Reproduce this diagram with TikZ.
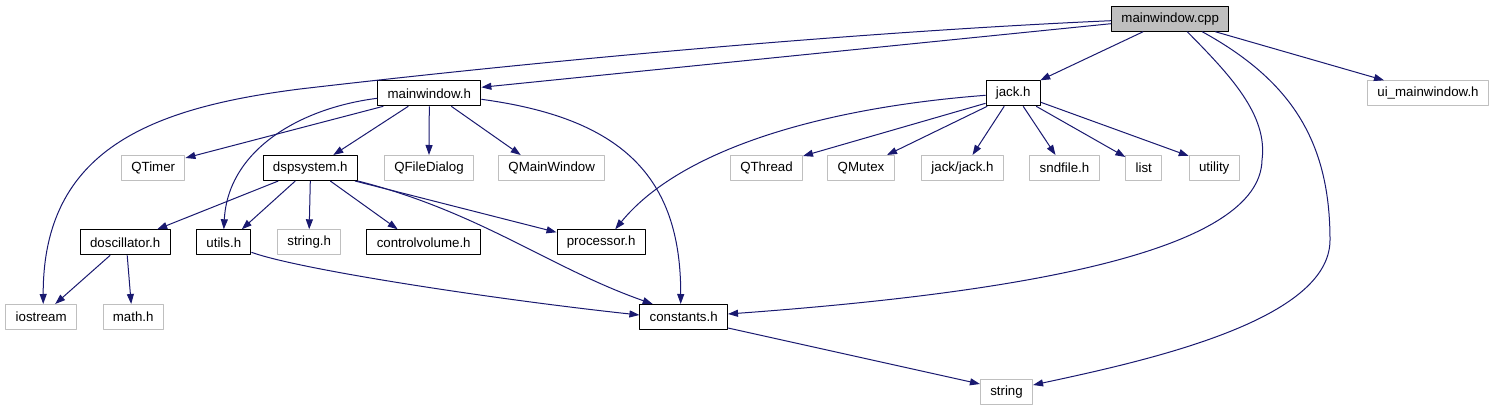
\documentclass[tikz,border=0pt]{standalone}
\usepackage{fontspec}
\setmainfont{Liberation Sans}
\usetikzlibrary{arrows.meta}
\definecolor{edgeblue}{HTML}{191970}
\definecolor{extline}{HTML}{BFBFBF}
\definecolor{rootfill}{HTML}{BFBFBF}
\tikzset{
 file/.style={draw=black,fill=white,line width=1pt,minimum height=25pt,inner xsep=9.8pt,inner ysep=0pt},
 extfile/.style={file,draw=extline},
 rootfile/.style={file,fill=rootfill},
 dep/.style={draw=edgeblue,line width=1pt,-{Triangle[length=10pt,width=7pt]}}
}

\begin{document}
\begin{tikzpicture}[x=1pt,y=-1pt,font=\fontsize{13.3}{16}\selectfont,line join=round]
\useasboundingbox[fill=white] (0,0) rectangle (1495,411);
% Files, one row per include level.
\node[rootfile] (cpp) at (1170.2,18.7) {mainwindow.cpp};
\node[file] (mainwinh) at (429.3,93.3) {mainwindow.h};
\node[file] (jackh) at (1013.2,93.3) {jack.h};
\node[extfile] (uimain) at (1428,93.3) {ui\_mainwindow.h};
\node[extfile] (qtimer) at (153.2,168) {QTimer};
\node[file] (dspsys) at (310.3,168) {dspsystem.h};
\node[extfile] (qfiledlg) at (429,168) {QFileDialog};
\node[extfile] (qmainwin) at (551.7,168) {QMainWindow};
\node[extfile] (qthread) at (766.5,168) {QThread};
\node[extfile] (qmutex) at (861,168) {QMutex};
\node[extfile] (jackjack) at (962.5,168) {jack/jack.h};
\node[extfile] (sndfile) at (1064.5,168) {sndfile.h};
\node[extfile] (stdlist) at (1143.8,168) {list};
\node[extfile] (utility) at (1214.2,168) {utility};
\node[file] (doscill) at (125.2,242.3) {doscillator.h};
\node[file] (utilsh) at (223.8,242.3) {utils.h};
\node[extfile] (stringh) at (309.2,242.3) {string.h};
\node[file] (ctrlvol) at (423.7,242.3) {controlvolume.h};
\node[file] (processor) at (601.2,242.3) {processor.h};
\node[extfile] (iostream) at (41.2,317) {iostream};
\node[extfile] (mathh) at (133.2,317) {math.h};
\node[file] (constants) at (683.7,317) {constants.h};
\node[extfile] (stdstring) at (1006.5,392) {string};
% Includes of mainwindow.cpp.
\draw[dep] ([yshift=-2pt]cpp.west) .. controls (900,30) and (600,54) .. (300,89)
 .. controls (150,108) and (43,150) .. ([xshift=2pt]iostream.north);
\draw[dep] ([yshift=-5pt]cpp.west) -- ([yshift=6pt]mainwinh.east);
\draw[dep] ([xshift=-27pt]cpp.south) -- ([xshift=27pt]jackh.north);
\draw[dep] ([xshift=17pt]cpp.south) .. controls (1230,75) and (1268,115) .. (1262,160)
 .. controls (1260,250) and (1030,292) .. ([yshift=3pt]constants.east);
\draw[dep] ([xshift=32pt]cpp.south) .. controls (1290,80) and (1330,140) .. (1330,240)
 .. controls (1330,320) and (1150,360) .. ([yshift=7pt]stdstring.east);
\draw[dep] ([xshift=45pt]cpp.south) -- ([xshift=-44pt]uimain.north);
% Includes of mainwindow.h.
\draw[dep] ([xshift=-46pt]mainwinh.south) -- ([yshift=10pt]qtimer.east);
\draw[dep] ([xshift=-21pt]mainwinh.south) -- ([xshift=23pt]dspsys.north);
\draw[dep] (mainwinh.south) -- (qfiledlg.north);
\draw[dep] ([xshift=22pt]mainwinh.south) -- ([xshift=-31pt]qmainwin.north);
\draw[dep] ([yshift=-5pt]mainwinh.west) .. controls (300,108) and (228,150) .. (utilsh.north);
\draw[dep] ([yshift=-6pt]mainwinh.east) .. controls (620,118) and (681,175) .. ([xshift=-3pt]constants.north);
% Includes of jack.h.
\draw[dep] ([yshift=-2pt]jackh.west) .. controls (820,108) and (680,150) .. ([xshift=14pt]processor.north);
\draw[dep] ([yshift=-10pt]jackh.west) -- ([yshift=12pt]qthread.east);
\draw[dep] ([xshift=-26pt]jackh.south) -- ([xshift=26pt]qmutex.north);
\draw[dep] ([xshift=-9pt]jackh.south) -- ([xshift=10pt]jackjack.north);
\draw[dep] ([xshift=10pt]jackh.south) -- ([xshift=-9pt]sndfile.north);
\draw[dep] ([xshift=23pt]jackh.south) -- ([yshift=11pt]stdlist.west);
\draw[dep] ([yshift=-9pt]jackh.east) -- ([yshift=12pt]utility.west);
% Includes of dspsystem.h.
\draw[dep] ([xshift=-32pt]dspsys.south) -- ([xshift=32pt]doscill.north);
\draw[dep] ([xshift=-15pt]dspsys.south) -- ([xshift=18pt]utilsh.north);
\draw[dep] (dspsys.south) -- (stringh.north);
\draw[dep] ([xshift=20pt]dspsys.south) -- ([xshift=-26pt]ctrlvol.north);
\draw[dep] ([xshift=-3pt]dspsys.south east) -- ([yshift=10pt]processor.west);
\draw[dep] (dspsys.south east) .. controls (480,212) and (550,268) .. ([xshift=-31pt]constants.north);
% Lower levels.
\draw[dep] ([xshift=-15pt]doscill.south) -- ([xshift=14pt]iostream.north);
\draw[dep] ([xshift=2pt]doscill.south) -- ([xshift=-2pt]mathh.north);
\draw[dep] ([yshift=-10pt]utilsh.east) .. controls (300,270) and (500,300) .. ([yshift=2pt]constants.west);
\draw[dep] ([yshift=-11pt]constants.east) -- ([yshift=8pt]stdstring.west);
\end{tikzpicture}
\end{document}
